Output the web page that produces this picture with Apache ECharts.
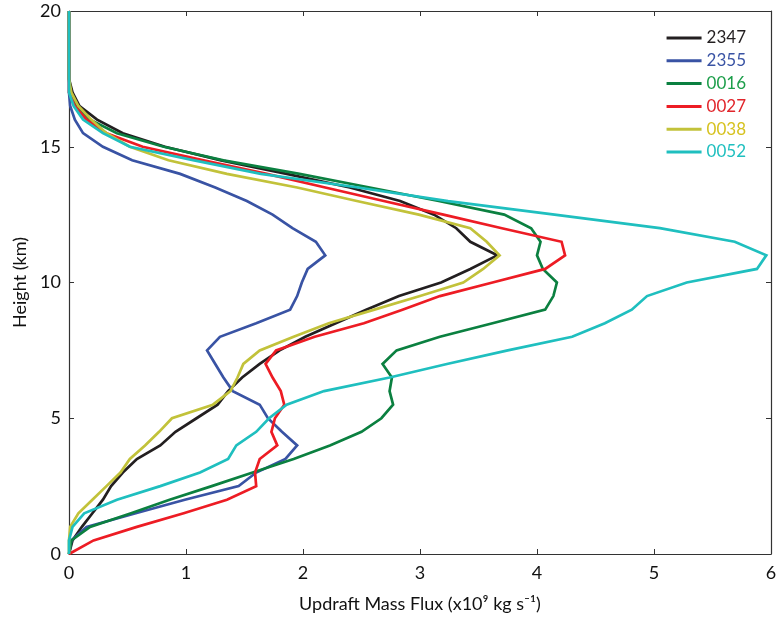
<!DOCTYPE html>
<html>
<head>
<meta charset="utf-8">
<script src="https://cdn.jsdelivr.net/npm/echarts@6/dist/echarts.min.js"></script>
<style>
  html, body { margin: 0; padding: 0; background: #fff; }
  #chart { width: 776px; height: 621px; }
</style>
</head>
<body>
<div id="chart"></div>
<script>
// Heights (km) at which the updraft mass flux profiles are sampled
const heights = [0, 0.5, 1, 1.5, 2, 2.5, 3, 3.5, 4, 4.5, 5, 5.5, 6, 6.5, 7, 7.5, 8, 8.5, 9, 9.5,
  10, 10.5, 11, 11.5, 12, 12.5, 13, 13.5, 14, 14.5, 15, 15.5, 16, 16.5, 17, 17.5, 18, 18.5, 19, 19.5, 20];

// Updraft mass flux (x10^9 kg s^-1) for each analysis time
const flux2347 = [0, 0.03, 0.11, 0.20, 0.29, 0.36, 0.46, 0.58, 0.78, 0.91, 1.09, 1.27, 1.36, 1.48, 1.63, 1.80, 2.02, 2.28, 2.54, 2.82,
  3.18, 3.43, 3.66, 3.43, 3.31, 3.12, 2.83, 2.40, 1.86, 1.30, 0.82, 0.46, 0.24, 0.09, 0.03, 0, 0, 0, 0, 0, 0];
const flux2355 = [0, 0.02, 0.15, 0.57, 0.99, 1.45, 1.60, 1.85, 1.95, 1.82, 1.70, 1.63, 1.40, 1.32, 1.25, 1.18, 1.29, 1.60, 1.89, 1.95,
  1.99, 2.04, 2.19, 2.11, 1.91, 1.74, 1.52, 1.25, 0.95, 0.54, 0.29, 0.12, 0.05, 0.01, 0, 0, 0, 0, 0, 0, 0];
const flux0016 = [0, 0.02, 0.18, 0.53, 0.86, 1.22, 1.57, 1.92, 2.23, 2.50, 2.67, 2.77, 2.74, 2.76, 2.68, 2.80, 3.17, 3.62, 4.07, 4.14,
  4.17, 4.05, 4.00, 4.03, 3.95, 3.72, 3.16, 2.57, 1.97, 1.32, 0.81, 0.41, 0.18, 0.06, 0.01, 0, 0, 0, 0, 0, 0];
const flux0027 = [0, 0.21, 0.58, 0.98, 1.35, 1.60, 1.59, 1.63, 1.78, 1.73, 1.76, 1.84, 1.81, 1.74, 1.68, 1.77, 2.10, 2.52, 2.85, 3.17,
  3.62, 4.07, 4.24, 4.21, 3.70, 3.20, 2.69, 2.19, 1.69, 1.15, 0.63, 0.32, 0.15, 0.05, 0, 0, 0, 0, 0, 0, 0];
const flux0038 = [0, 0, 0.01, 0.08, 0.20, 0.32, 0.44, 0.52, 0.65, 0.77, 0.88, 1.23, 1.38, 1.44, 1.49, 1.63, 1.92, 2.22, 2.61, 3.00,
  3.37, 3.54, 3.68, 3.57, 3.43, 2.99, 2.46, 1.95, 1.35, 0.85, 0.52, 0.32, 0.19, 0.08, 0.02, 0, 0, 0, 0, 0, 0];
const flux0052 = [0, 0, 0.03, 0.13, 0.41, 0.78, 1.12, 1.36, 1.43, 1.60, 1.71, 1.86, 2.18, 2.74, 3.23, 3.75, 4.30, 4.58, 4.81, 4.94,
  5.28, 5.88, 5.96, 5.69, 5.05, 4.15, 3.24, 2.47, 1.64, 1.07, 0.52, 0.29, 0.12, 0.04, 0, 0, 0, 0, 0, 0, 0];

const seriesNames = ['2347', '2355', '0016', '0027', '0038', '0052'];
const seriesValues = [flux2347, flux2355, flux0016, flux0027, flux0038, flux0052];
const lineColors = ['#231f20', '#3953a4', '#0b8040', '#ed1c24', '#c2c23a', '#1fbfbf'];
const textColors = ['#231f20', '#3953a4', '#1c9e4a', '#e1252b', '#d6c21f', '#1fbfbf'];

const font = 'Lato, "Noto Sans", sans-serif';
const axisColor = '#333333';

const chart = echarts.init(document.getElementById('chart'), null, { renderer: 'canvas' });

const series = seriesNames.map((name, i) => ({
  name: name,
  type: 'line',
  xAxisIndex: 0,
  yAxisIndex: 0,
  showSymbol: false,
  symbol: 'none',
  animation: false,
  lineStyle: { color: lineColors[i], width: 2.7, join: 'miter' },
  itemStyle: { color: lineColors[i] },
  data: heights.map((h, k) => [seriesValues[i][k], h])
}));

const baseAxis = {
  type: 'value',
  axisLine: { show: true, onZero: false, lineStyle: { color: axisColor, width: 1.2 } },
  axisTick: { show: true, inside: true, length: 5, lineStyle: { color: axisColor, width: 1 } },
  splitLine: { show: false }
};

chart.setOption({
  backgroundColor: '#ffffff',
  animation: false,
  grid: { left: 69, right: 5, top: 11, bottom: 67, containLabel: false, outerBoundsMode: 'none' },
  legend: {
    right: 30,
    top: 29,
    padding: 0,
    orient: 'vertical',
    align: 'left',
    icon: 'rect',
    itemWidth: 35,
    itemHeight: 3,
    itemGap: 4.8,
    textStyle: { fontFamily: font, fontSize: 17, lineHeight: 18 },
    data: seriesNames.map((n, i) => ({ name: n, textStyle: { color: textColors[i] } }))
  },
  xAxis: [
    Object.assign({}, baseAxis, {
      position: 'bottom', min: 0, max: 6, interval: 1,
      axisLabel: { fontFamily: font, fontSize: 18, color: '#111', margin: 10 },
      name: 'Updraft Mass Flux (x10⁹ kg s⁻¹)',
      nameLocation: 'middle', nameGap: 41,
      nameTextStyle: { fontFamily: font, fontSize: 18, color: '#111' }
    }),
    Object.assign({}, baseAxis, {
      position: 'top', min: 0, max: 6, interval: 1,
      axisLabel: { show: false }
    })
  ],
  yAxis: [
    Object.assign({}, baseAxis, {
      position: 'left', min: 0, max: 20, interval: 5,
      axisLabel: { fontFamily: font, fontSize: 18, color: '#111', margin: 8 },
      name: 'Height (km)',
      nameLocation: 'middle', nameGap: 36, nameRotate: 90,
      nameTextStyle: { fontFamily: font, fontSize: 18, color: '#111' }
    }),
    Object.assign({}, baseAxis, {
      position: 'right', min: 0, max: 20, interval: 5,
      axisLabel: { show: false }
    })
  ],
  series: series
});
</script>
</body>
</html>
